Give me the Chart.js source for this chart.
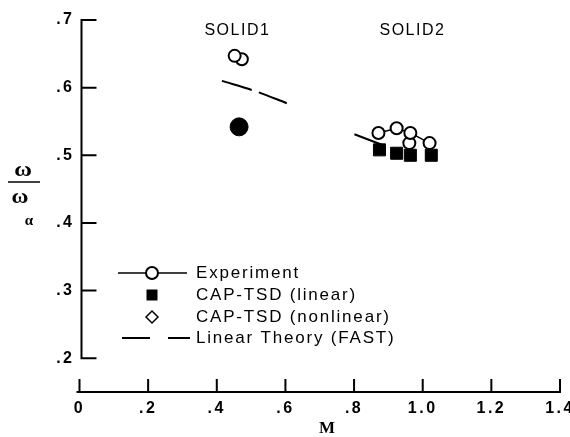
<!DOCTYPE html>
<html>
<head>
<meta charset="utf-8">
<script src="https://cdn.jsdelivr.net/npm/chart.js@4.4.0/dist/chart.umd.min.js"></script>
<style>
  html, body { margin: 0; padding: 0; background: #fff; }
  canvas { display: block; }
</style>
</head>
<body>
<canvas id="flutterChart" width="570" height="437"></canvas>
<script>
// Flutter frequency ratio vs Mach number, SOLID1 / SOLID2 wings

// Experiment
const expM1 = [0.452];
const expW1 = [0.647];
const expM2 = [0.871, 0.924, 0.964, 1.020];
const expW2 = [0.533, 0.540, 0.533, 0.518];

// CAP-TSD (linear)
const linM = [0.465, 0.874, 0.924, 0.964, 1.025];
const linW = [0.542, 0.508, 0.503, 0.500, 0.500];
const linStyle = ['circle', 'rect', 'rect', 'rect', 'rect'];
const linSize = [9, 8.5, 8.5, 8.5, 8.5];

// CAP-TSD (nonlinear)
const nonM = [0.473, 0.961];
const nonW = [0.642, 0.518];

// Linear theory (FAST)
const fastM1 = [0.415, 0.511, 0.604];
const fastW1 = [0.610, 0.595, 0.577];
const fastM2 = [0.801, 0.858, 0.900];
const fastW2 = [0.531, 0.520, 0.512];

const xTickValues = [0, 0.2, 0.4, 0.6, 0.8, 1.0, 1.2, 1.4];
const xTickLabels = ['0', '.2', '.4', '.6', '.8', '1.0', '1.2', '1.4'];
const yTickValues = [0.2, 0.3, 0.4, 0.5, 0.6, 0.7];
const yTickLabels = ['.2', '.3', '.4', '.5', '.6', '.7'];

const groupNames = ['SOLID1', 'SOLID2'];
const groupM = [0.46, 0.97];
const legendLabels = ['Experiment', 'CAP-TSD (linear)', 'CAP-TSD (nonlinear)', 'Linear Theory (FAST)'];

const pts = (xs, ys) => xs.map((m, i) => ({ x: m, y: ys[i] }));
const tickFont = { family: 'Liberation Sans', size: 16, weight: 'bold' };

// axis lines with inward ticks, y axis stops at .2 and x axis sits below it
const axesPlugin = {
  id: 'brokenAxes',
  beforeLayout(chart) { chart.ctx.letterSpacing = '2.5px'; },
  beforeDraw(chart) { chart.ctx.letterSpacing = '2.5px'; },
  afterDraw(chart) {
    const { ctx, scales: { x, y } } = chart;
    ctx.save();
    ctx.letterSpacing = '0px';
    ctx.strokeStyle = '#000';
    ctx.lineWidth = 2;
    ctx.lineCap = 'square';

    const ax = x.getPixelForValue(0) + 2;
    const yTop = y.getPixelForValue(0.7);
    const yBot = y.getPixelForValue(0.2);
    ctx.beginPath();
    ctx.moveTo(ax, yTop);
    ctx.lineTo(ax, yBot);
    yTickValues.forEach((v) => {
      const py = y.getPixelForValue(v);
      ctx.moveTo(ax, py);
      ctx.lineTo(ax + 14, py);
    });
    ctx.stroke();

    const bx = y.getPixelForValue(0.15);
    ctx.beginPath();
    ctx.moveTo(x.getPixelForValue(0) - 2, bx);
    ctx.lineTo(x.getPixelForValue(1.4), bx);
    xTickValues.forEach((v) => {
      const px = x.getPixelForValue(v);
      ctx.moveTo(px, bx);
      ctx.lineTo(px, bx - 12);
    });
    ctx.stroke();
    ctx.restore();
  },
};

// group names, axis titles and the key
const notesPlugin = {
  id: 'notes',
  afterDraw(chart) {
    const { ctx, scales: { x, y } } = chart;
    ctx.save();
    ctx.fillStyle = '#000';
    ctx.strokeStyle = '#000';

    ctx.font = '16px "Liberation Sans"';
    ctx.letterSpacing = '1.5px';
    ctx.textAlign = 'center';
    ctx.textBaseline = 'middle';
    groupNames.forEach((name, i) => {
      ctx.fillText(name, x.getPixelForValue(groupM[i]), y.getPixelForValue(0.685));
    });

    // M
    ctx.letterSpacing = '0px';
    ctx.font = 'bold 17px "Liberation Serif"';
    ctx.fillText('M', 327, 429);

    // omega / omega_alpha
    ctx.font = 'bold 21px "Liberation Serif"';
    ctx.save();
    ctx.translate(23, 171);
    ctx.scale(1.15, 1);
    ctx.fillText('ω', 0, 0);
    ctx.restore();
    ctx.save();
    ctx.translate(20, 198);
    ctx.scale(1.1, 1);
    ctx.fillText('ω', 0, 0);
    ctx.restore();
    ctx.font = 'bold 15px "Liberation Serif"';
    ctx.fillText('α', 29, 221);
    ctx.lineWidth = 1.5;
    ctx.beginPath();
    ctx.moveTo(8, 182);
    ctx.lineTo(40, 182);
    ctx.stroke();

    // key
    const rows = [273, 295, 317, 338];
    const cx = 152;
    ctx.lineWidth = 1.5;
    ctx.beginPath();
    ctx.moveTo(118, rows[0]);
    ctx.lineTo(187, rows[0]);
    ctx.stroke();
    ctx.lineWidth = 2;
    ctx.beginPath();
    ctx.arc(cx, rows[0], 6, 0, Math.PI * 2);
    ctx.fillStyle = '#fff';
    ctx.fill();
    ctx.stroke();
    ctx.fillStyle = '#000';
    ctx.fillRect(cx - 5.5, rows[1] - 5.5, 11, 11);
    ctx.lineWidth = 1.5;
    ctx.beginPath();
    ctx.moveTo(cx, rows[2] - 6);
    ctx.lineTo(cx + 6, rows[2]);
    ctx.lineTo(cx, rows[2] + 6);
    ctx.lineTo(cx - 6, rows[2]);
    ctx.closePath();
    ctx.stroke();
    ctx.lineWidth = 2;
    ctx.beginPath();
    ctx.moveTo(122, rows[3]);
    ctx.lineTo(150, rows[3]);
    ctx.moveTo(168, rows[3]);
    ctx.lineTo(190, rows[3]);
    ctx.stroke();

    ctx.font = '17px "Liberation Sans"';
    ctx.letterSpacing = '1.8px';
    ctx.textAlign = 'left';
    legendLabels.forEach((label, i) => ctx.fillText(label, 196, rows[i]));
    ctx.restore();
  },
};

const openCircle = {
  pointStyle: 'circle',
  pointRadius: 6,
  pointBackgroundColor: '#fff',
  pointBorderColor: '#000',
  pointBorderWidth: 2,
};

new Chart(document.getElementById('flutterChart'), {
  type: 'scatter',
  data: {
    datasets: [
      { label: 'Experiment', data: pts(expM1, expW1), showLine: true, borderColor: '#000', borderWidth: 1.5, ...openCircle },
      { label: 'Experiment', data: pts(expM2, expW2), showLine: true, borderColor: '#000', borderWidth: 1.5, ...openCircle },
      { label: 'CAP-TSD (nonlinear)', data: pts(nonM, nonW), ...openCircle },
      {
        label: 'CAP-TSD (linear)',
        data: pts(linM, linW),
        pointStyle: linStyle,
        pointRadius: linSize,
        pointBackgroundColor: '#000',
        pointBorderColor: '#000',
        pointBorderWidth: 1,
      },
      { label: 'Linear Theory (FAST)', data: pts(fastM1, fastW1), showLine: true, borderColor: '#000', borderWidth: 2, borderDash: [31, 8], pointRadius: 0, tension: 0.3 },
      { label: 'Linear Theory (FAST)', data: pts(fastM2, fastW2), showLine: true, borderColor: '#000', borderWidth: 2, borderDash: [31, 8], pointRadius: 0, tension: 0.3 },
    ],
  },
  options: {
    responsive: false,
    devicePixelRatio: 1,
    animation: false,
    layout: { padding: { top: 20, right: 9, left: 0, bottom: 0 } },
    plugins: { legend: { display: false }, tooltip: { enabled: false } },
    scales: {
      x: {
        type: 'linear',
        min: 0,
        max: 1.4,
        grid: { display: false, drawTicks: false },
        border: { display: false },
        afterBuildTicks: (s) => { s.ticks = xTickValues.map((v) => ({ value: v })); },
        afterFit: (s) => { s.height = 45; s.paddingLeft = 0; s.paddingRight = 0; },
        ticks: {
          autoSkip: false,
          maxRotation: 0,
          padding: 7,
          color: '#000',
          font: tickFont,
          callback: (v, i) => xTickLabels[i],
        },
      },
      y: {
        type: 'linear',
        min: 0.15,
        max: 0.7,
        grid: { display: false, drawTicks: false },
        border: { display: false },
        afterBuildTicks: (s) => { s.ticks = yTickValues.map((v) => ({ value: v })); },
        afterFit: (s) => { s.width = 79.5; s.paddingTop = 0; s.paddingBottom = 0; },
        ticks: {
          padding: 5,
          color: '#000',
          font: tickFont,
          callback: (v, i) => yTickLabels[i],
        },
      },
    },
  },
  plugins: [axesPlugin, notesPlugin],
});
</script>
</body>
</html>
